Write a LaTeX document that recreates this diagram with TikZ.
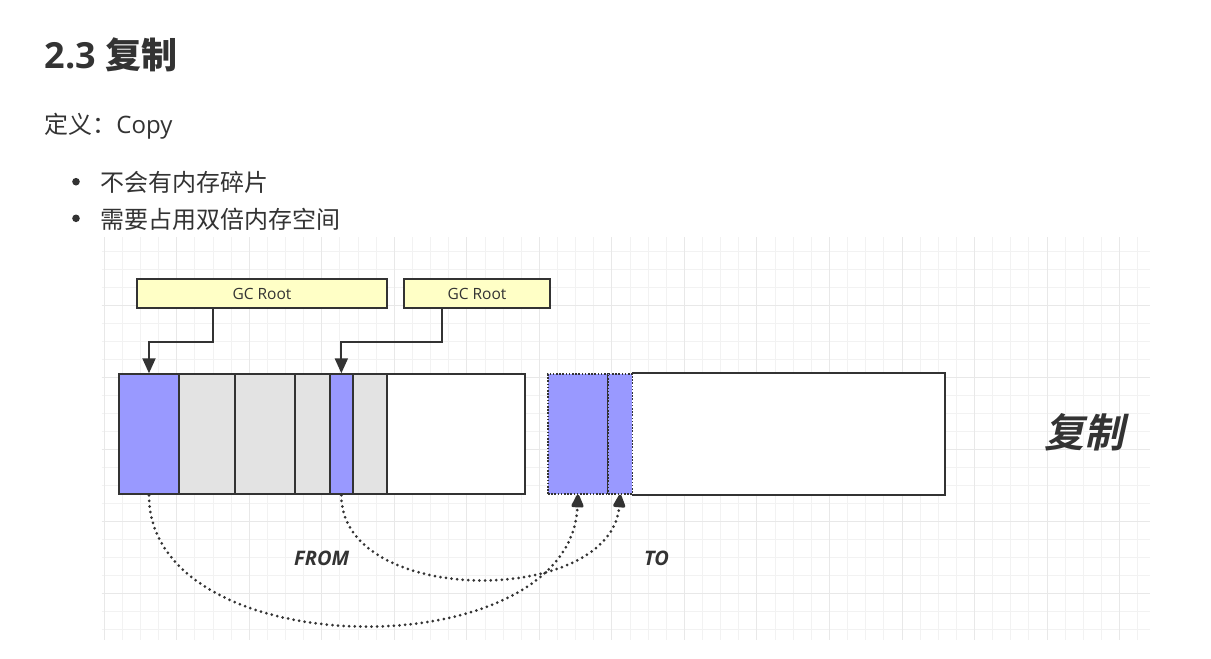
\documentclass[tikz,border=0pt]{standalone}
\usepackage{fontspec}
\setmainfont{Open Sans}
\newfontfamily\cjk{Noto Sans CJK SC}
\newfontfamily\cjkbsl{Noto Sans CJK SC Bold}[FakeSlant=0.22]
\usetikzlibrary{arrows.meta}
\definecolor{txt}{HTML}{333333}
\definecolor{edge}{HTML}{333333}
\definecolor{objblue}{HTML}{9999FF}
\definecolor{objgray}{HTML}{E3E3E3}
\definecolor{rootyellow}{HTML}{FFFFC6}
\definecolor{gridminor}{HTML}{F2F2F2}
\definecolor{gridmajor}{HTML}{E8E8E8}
\tikzset{
  cell/.style={draw=edge, line width=2pt, minimum height=120pt, inner sep=0pt, anchor=north west},
  tocell/.style={draw=edge, line width=1.3pt, dash pattern=on 1.6pt off 1.6pt, fill=objblue, minimum height=120pt, inner sep=0pt, anchor=north west},
  rootbox/.style={draw=edge, line width=2pt, fill=rootyellow, minimum height=28.4pt, inner sep=0pt, anchor=north west, text=txt, font=\fontsize{15.5}{18}\selectfont},
  conn/.style={draw=edge, line width=2pt, -{Triangle[length=15pt,width=13pt]}},
  dotarc/.style={draw=edge, line width=3pt, line cap=round, dash pattern=on 0pt off 5.6pt, -{Triangle[length=15pt,width=13pt,round=false]}},
  lbl/.style={anchor=base west, inner sep=0pt, text=txt},
}
\begin{document}
\begin{tikzpicture}[x=1pt,y=-1pt]
\useasboundingbox[fill=white] (0,0) rectangle (1211,659);
% grid
\foreach \i in {0,...,57}{
  \draw[gridminor, line width=1pt] ({104.3+18.13*\i},237) -- ({104.3+18.13*\i},640);
}
\foreach \j in {-3,...,18}{
  \draw[gridminor, line width=1pt] (101.7,{305.3+18*\j}) -- (1150,{305.3+18*\j});
}
\foreach \i in {0,...,14}{
  \draw[gridmajor, line width=1pt] ({104.3+72.52*\i},237) -- ({104.3+72.52*\i},640);
}
\foreach \j in {0,...,4}{
  \draw[gridmajor, line width=1pt] (101.7,{305.3+72*\j}) -- (1150,{305.3+72*\j});
}
% header text
\node[lbl, font=\fontsize{36}{43}\selectfont\bfseries] (title) at (44.3,68.3) {2.3 {\cjk\bfseries 复制}};
\node[lbl, font=\fontsize{24}{29}\selectfont] (def) at (44.3,133) {{\cjk 定义：}Copy};
\node[circle, fill=txt, inner sep=0pt, minimum size=7.6pt] (b1) at (76,181.7) {};
\node[circle, fill=txt, inner sep=0pt, minimum size=7.6pt] (b2) at (76,218.3) {};
\node[lbl, font=\fontsize{24}{29}\selectfont\cjk] (l1) at (100,191) {不会有内存碎片};
\node[lbl, font=\fontsize{24}{29}\selectfont\cjk] (l2) at (100,228.3) {需要占用双倍内存空间};
% GC roots
\node[rootbox, minimum width=250pt] (g1) at (136,278.3) {GC Root};
\node[rootbox, minimum width=146.6pt] (g2) at (402.7,278.3) {GC Root};
% FROM space
\node[cell, fill=objblue, minimum width=60.6pt] (f1) at (117.7,373.3) {};
\node[cell, fill=objgray, minimum width=55.7pt] (f2) at (178.3,373.3) {};
\node[cell, fill=objgray, minimum width=60pt] (f3) at (234,373.3) {};
\node[cell, fill=objgray, minimum width=35pt] (f4) at (294,373.3) {};
\node[cell, fill=objblue, minimum width=22.7pt] (f5) at (329,373.3) {};
\node[cell, fill=objgray, minimum width=34.3pt] (f6) at (351.7,373.3) {};
\node[cell, fill=white, minimum width=138.3pt] (f7) at (386,373.3) {};
% TO space
\node[cell, draw=none, fill=white, minimum width=311.6pt] (t3) at (631.7,373.3) {};
\draw[edge, line width=2pt] (t3.north west) -- (t3.north east) -- (t3.south east) -- (t3.south west);
\node[tocell, minimum width=60pt] (t1) at (547.3,373.3) {};
\node[tocell, minimum width=24.4pt] (t2) at (607.3,373.3) {};
% connectors from roots
\draw[conn] ([xshift=-48.7pt]g1.south) -- ++(0,33.3) -| (f1.north);
\draw[conn] ([xshift=-35.3pt]g2.south) -- ++(0,33.3) -| (f5.north);
% copy arcs
\draw[dotarc] (f1.south) .. controls +(0,172) and +(-7,175) .. (t1.south);
\draw[dotarc] (f5.south) .. controls +(0,112) and +(-9,112) .. (t2.south);
% labels
\node[lbl, font=\fontsize{20}{24}\selectfont\bfseries\itshape] (from) at (294,565.7) {FROM};
\node[lbl, font=\fontsize{20}{24}\selectfont\bfseries\itshape] (to) at (644,565.7) {TO};
\node[lbl, font=\fontsize{40}{48}\selectfont\cjkbsl] (copy) at (1044,447) {复制};
\end{tikzpicture}
\end{document}
